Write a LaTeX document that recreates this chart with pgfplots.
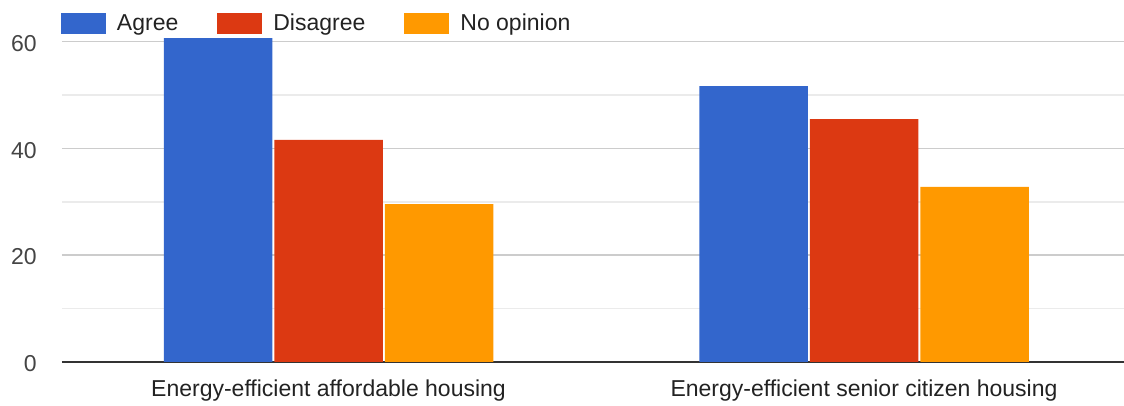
\documentclass[border=0pt]{standalone}
\usepackage{fontspec}
\setmainfont{Liberation Sans}
\usepackage{pgfplots}
\pgfplotsset{compat=1.18}
\definecolor{cAgree}{HTML}{3366CC}
\definecolor{cDis}{HTML}{DC3912}
\definecolor{cNo}{HTML}{FF9900}
\definecolor{cTick}{HTML}{444444}
\definecolor{cText}{HTML}{222222}
\definecolor{cMajor}{HTML}{CCCCCC}
\definecolor{cMinor}{HTML}{EBEBEB}
\definecolor{cBase}{HTML}{333333}
\pgfplotsset{
  boxlegend/.style={/pgfplots/legend image code/.code={\fill[#1] (0pt,-5.25pt) rectangle (22.5pt,5.25pt); \path (28pt,0pt);}},
}
\begin{document}
\begin{tikzpicture}
\useasboundingbox (-31pt,-22pt) rectangle (531pt,181pt);
\begin{axis}[
  at={(0,0)}, anchor=south west,
  scale only axis, width=531pt, height=162.8pt,
  xmin=-0.4977, xmax=1.4855, ymin=0, ymax=61,
  ybar=1pt, bar width=54.25pt,
  axis line style={draw=none},
  tick style={draw=none},
  major tick length=0pt, minor tick length=0pt,
  xtick={0,1},
  xticklabels={Energy-efficient affordable housing, Energy-efficient senior citizen housing},
  xticklabel style={anchor=base, inner sep=0pt, yshift=-17.5pt, font=\fontsize{11.5}{13}\selectfont, text=cText},
  ytick={0,20,40,60},
  minor ytick={10,30,50},
  ymajorgrids, yminorgrids,
  major grid style={color=cMajor, line width=0.75pt},
  minor grid style={color=cMinor, line width=0.65pt},
  yticklabel style={anchor=east, inner sep=0pt, xshift=-12.5pt, yshift=-0.8pt, font=\fontsize{11.5}{13}\selectfont, text=cTick},
  /pgf/number format/assume math mode=true,
  extra y ticks={0},
  extra y tick labels={},
  extra y tick style={grid=major, major grid style={color=cBase, line width=1pt}},
  legend columns=3,
  legend style={at={(0,1)}, anchor=west, xshift=-0.5pt, yshift=6.3pt, draw=none, fill=none,
    inner sep=0pt, outer sep=0pt, font=\fontsize{11.5}{13}\selectfont, text=cText,
    nodes={inner sep=0pt, anchor=west},
    /tikz/every even column/.append style={column sep=19.5pt}},
]
\addplot[fill=cAgree, draw=none, boxlegend] coordinates {(0,60.7) (1,51.7)};
\addplot[fill=cDis, draw=none, boxlegend] coordinates {(0,41.6) (1,45.5)};
\addplot[fill=cNo, draw=none, boxlegend] coordinates {(0,29.6) (1,32.8)};
\legend{Agree, Disagree, No opinion}
\end{axis}
\end{tikzpicture}
\end{document}
